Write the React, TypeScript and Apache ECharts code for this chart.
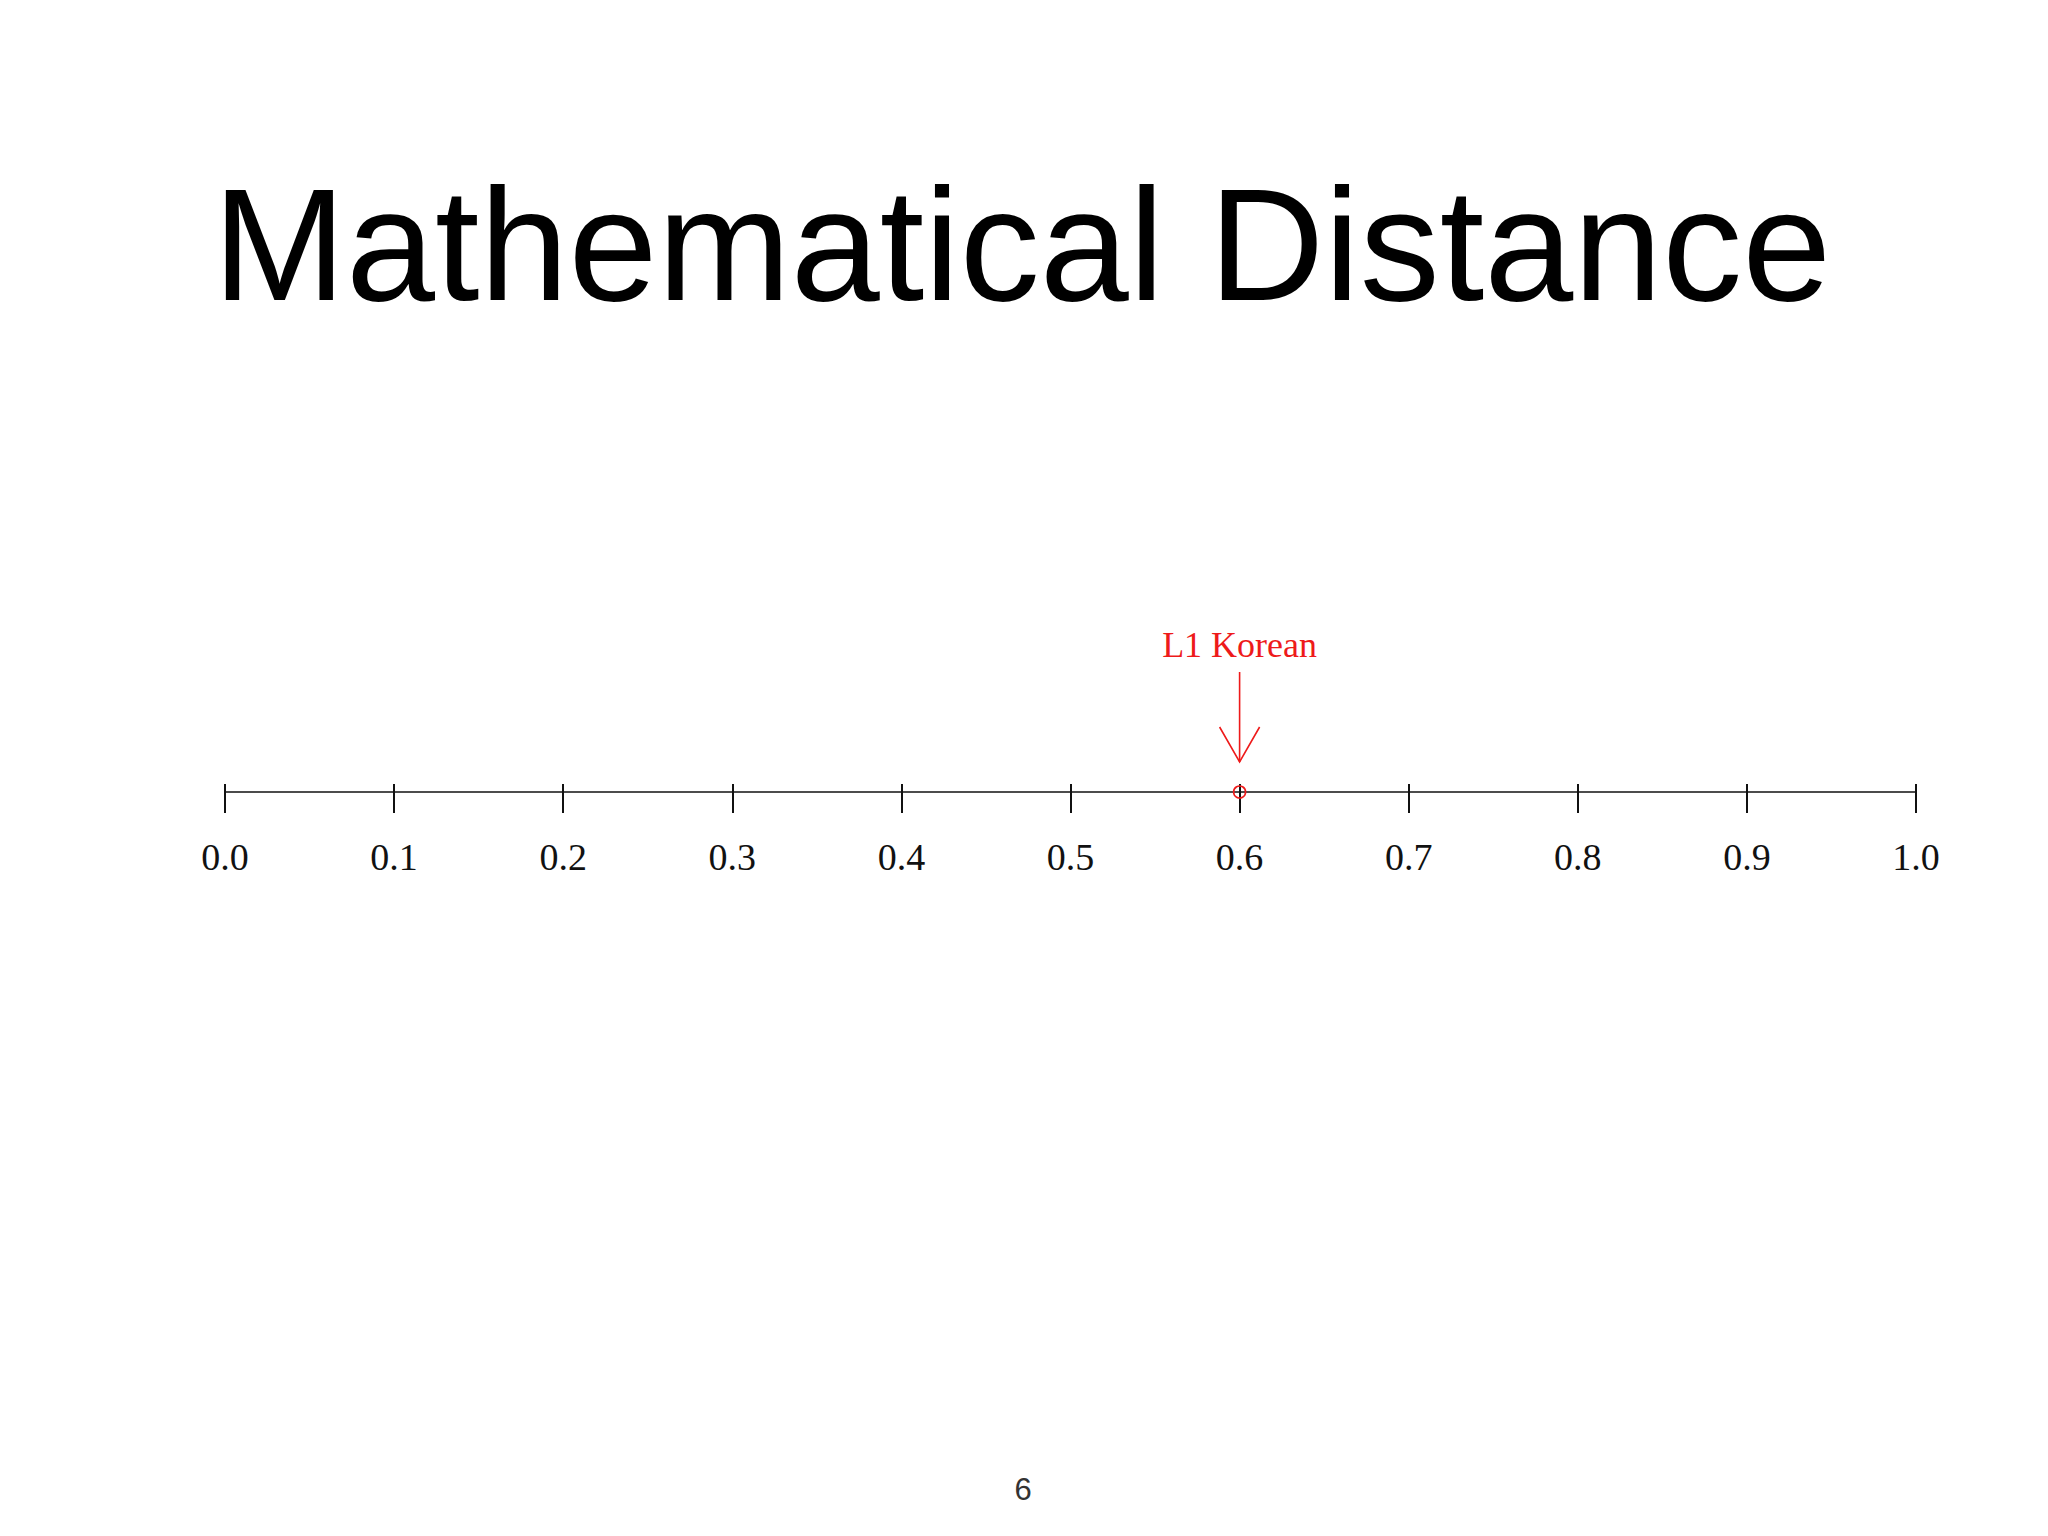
import React, { useEffect, useRef } from "react";
import * as echarts from "echarts";

const titleText = "Mathematical Distance";
const pageNumber = "6";
const axisMin = 0;
const axisMax = 1;
const axisInterval = 0.1;
const pointLabels = ["L1 Korean"];
const pointValues = [0.6];

const RED = "#ee1a1a";

export default function App() {
  const ref = useRef<HTMLDivElement>(null);
  useEffect(() => {
    if (!ref.current) return;
    const chart = echarts.init(ref.current, null, { renderer: "svg" });
    const data = pointValues.map((v, i) => ({ value: [v, 0], name: pointLabels[i] }));
    chart.setOption({
      animation: false,
      backgroundColor: "#ffffff",
      grid: { left: 225, right: 132, top: 400, bottom: 744, containLabel: false },
      xAxis: [
        {
          type: "value",
          min: axisMin,
          max: axisMax,
          interval: axisInterval,
          position: "bottom",
          axisLine: { show: true, onZero: false, lineStyle: { color: "#111", width: 1.6 } },
          axisTick: { show: true, inside: false, length: 21, lineStyle: { color: "#111", width: 2 } },
          axisLabel: {
            show: true,
            margin: 46,
            color: "#111",
            fontFamily: "Liberation Serif",
            fontSize: 38,
            formatter: (v: number) => v.toFixed(1),
          },
          splitLine: { show: false },
        },
        {
          type: "value",
          min: axisMin,
          max: axisMax,
          interval: axisInterval,
          position: "bottom",
          axisLine: { show: false, onZero: false },
          axisTick: { show: true, inside: true, length: 8, lineStyle: { color: "#111", width: 2 } },
          axisLabel: { show: false },
          splitLine: { show: false },
        },
      ],
      yAxis: { type: "value", min: 0, max: 1, show: false },
      graphic: [
        {
          type: "text",
          x: 1022,
          y: 244,
          style: {
            text: titleText,
            fill: "#000",
            font: "160px 'Liberation Sans', Arial, sans-serif",
            align: "center",
            verticalAlign: "middle",
          },
        },
        {
          type: "text",
          x: 1023,
          y: 1489,
          style: {
            text: pageNumber,
            fill: "#333",
            font: "31px 'Liberation Sans', Arial, sans-serif",
            align: "center",
            verticalAlign: "middle",
          },
        },
      ],
      series: [
        {
          type: "custom",
          xAxisIndex: 0,
          yAxisIndex: 0,
          data,
          renderItem: (params: any, api: any) => {
            const p = api.coord([api.value(0), api.value(1)]);
            const x = p[0];
            const y = p[1];
            const name = pointLabels[params.dataIndex];
            return {
              type: "group",
              children: [
                {
                  type: "circle",
                  shape: { cx: x, cy: y, r: 6 },
                  style: { fill: "none", stroke: RED, lineWidth: 1.6 },
                },
                {
                  type: "line",
                  shape: { x1: x, y1: y - 120, x2: x, y2: y - 30 },
                  style: { stroke: RED, lineWidth: 1.6 },
                },
                {
                  type: "polyline",
                  shape: { points: [[x - 20, y - 65], [x, y - 30], [x + 20, y - 65]] },
                  style: { stroke: RED, lineWidth: 1.6, fill: "none" },
                },
                {
                  type: "text",
                  x: x,
                  y: y - 147,
                  style: {
                    text: name,
                    fill: RED,
                    font: "36px 'Liberation Serif', serif",
                    align: "center",
                    verticalAlign: "middle",
                  },
                },
              ],
            };
          },
        },
      ],
    });
    return () => chart.dispose();
  }, []);
  return (
    <div
      ref={ref}
      style={{ position: "fixed", left: 0, top: 0, width: 2048, height: 1536, background: "#fff" }}
    />
  );
}
